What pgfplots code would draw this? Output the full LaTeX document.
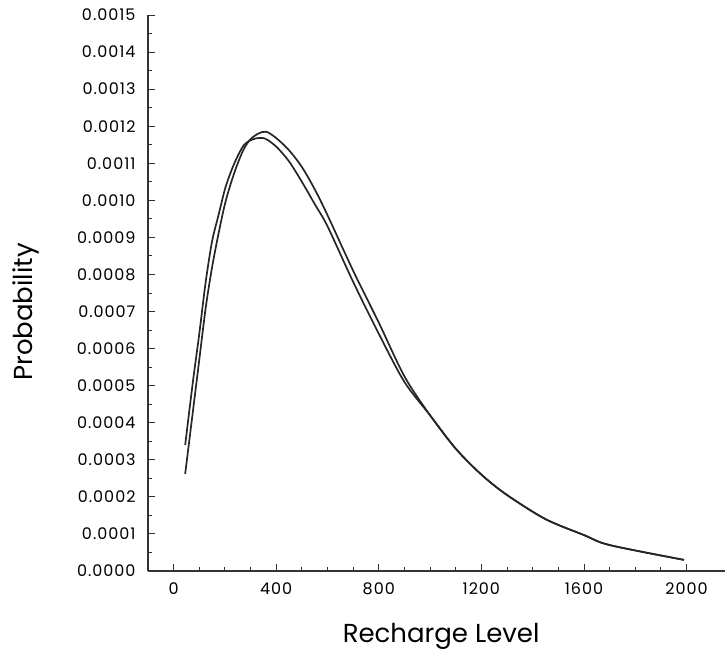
\documentclass[border=0pt]{standalone}
\usepackage{fontspec}
\setmainfont{Poppins}
\newfontfamily\tickfont[LetterSpace=6]{Poppins}
\usepackage{pgfplots}
\pgfplotsset{compat=1.18}

\begin{document}
\begin{tikzpicture}[x=1pt,y=1pt]
\useasboundingbox (-148,-87) rectangle (579,571);
\begin{axis}[
    at={(0,0)}, anchor=south west,
    scale only axis,
    width=577pt, height=556pt,
    xmin=-100, xmax=2150,
    ymin=0, ymax=0.0015,
    axis x line=bottom, axis y line=left,
    axis line style={-, line width=1.6pt, black!80},
    xtick={0,400,800,1200,1600,2000},
    minor x tick num=3,
    ytick={0,0.0001,...,0.00151},
    minor y tick num=1,
    tick align=inside,
    major tick length=7pt, minor tick length=4pt,
    tick style={line width=0.9pt, black!80},
    scaled y ticks=false,
    scaled x ticks=false,
    yticklabel style={/pgf/number format/fixed, /pgf/number format/fixed zerofill,
        /pgf/number format/precision=4, font=\tickfont\fontsize{16}{18}\selectfont, xshift=-9pt},
    xticklabel style={/pgf/number format/1000 sep={}, font=\tickfont\fontsize{16}{18}\selectfont, yshift=-8pt},
    /pgf/number format/assume math mode=true,
    xlabel={Recharge Level},
    ylabel={Probability},
    xlabel style={font=\fontsize{26}{30}\selectfont, at={(axis description cs:0.508,-0.117)}, anchor=center},
    ylabel style={font=\fontsize{26}{30}\selectfont, at={(axis description cs:-0.212,0.466)}, anchor=center, rotate=0},
    clip=false,
]
% curve with lower, earlier peak
\addplot[black!85, line width=1.7pt, smooth, tension=0.5] coordinates {
(45,0.00034) (75,0.00051) (100,0.00064) (125,0.00078) (150,0.00089)
(175,0.00096) (200,0.00103) (225,0.00108) (250,0.00112) (275,0.00115)
(300,0.001162) (320,0.001167) (355,0.001167) (400,0.001145) (450,0.001105)
(500,0.00105) (550,0.00099) (600,0.00093) (700,0.00078) (800,0.00064)
(900,0.00051) (1000,0.00042) (1100,0.00033) (1200,0.00026) (1300,0.000205)
(1450,0.00014) (1600,0.000097) (1700,0.00007) (1990,0.00003)
};
% curve with higher, later peak
\addplot[black!85, line width=1.7pt, smooth, tension=0.5] coordinates {
(45,0.000262) (75,0.00043) (100,0.00057) (125,0.00071) (150,0.00082)
(175,0.00091) (200,0.00099) (225,0.00105) (250,0.00110) (275,0.00114)
(300,0.001165) (330,0.00118) (361,0.001185) (400,0.001168) (450,0.001135)
(500,0.00109) (550,0.00103) (600,0.00096) (700,0.00081) (800,0.00067)
(900,0.000525) (1000,0.00042) (1100,0.00033) (1200,0.00026) (1300,0.000205)
(1450,0.00014) (1600,0.000097) (1700,0.00007) (1990,0.00003)
};
\end{axis}
\end{tikzpicture}
\end{document}
